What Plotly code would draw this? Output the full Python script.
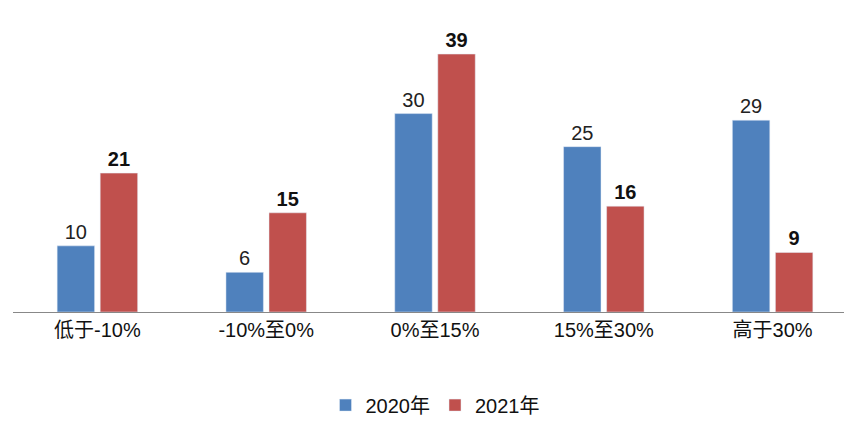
import plotly.graph_objects as go

categories = ['低于-10%', '-10%至0%', '0%至15%', '15%至30%', '高于30%']
values_2020 = [10, 6, 30, 25, 29]
values_2021 = [21, 15, 39, 16, 9]

FONT = 'Liberation Sans, Noto Sans CJK SC, sans-serif'

fig = go.Figure()
fig.add_bar(
    x=categories, y=values_2020, name='2020年',
    marker_color='#4F81BD',
    text=[str(v) for v in values_2020], textposition='outside',
    textfont=dict(size=20, color='#222', family=FONT),
    cliponaxis=False,
)
fig.add_bar(
    x=categories, y=values_2021, name='2021年',
    marker_color='#C0504D',
    text=['<b>%d</b>' % v for v in values_2021], textposition='outside',
    textfont=dict(size=20, color='#111', family=FONT),
    cliponaxis=False,
)

fig.update_layout(
    width=852, height=434,
    margin=dict(l=5, r=3, t=13, b=130),
    paper_bgcolor='white', plot_bgcolor='white',
    font=dict(family=FONT, size=20, color='#111'),
    barmode='group', bargap=0.49, bargroupgap=0.13,
    showlegend=True,
    legend=dict(orientation='h', x=0.5, xanchor='center', y=-0.32, yanchor='middle',
                font=dict(size=20)),
    xaxis=dict(showline=True, linecolor='#888', linewidth=1, ticks='',
               tickfont=dict(size=20)),
    yaxis=dict(visible=False, range=[0, 44]),
)

fig.write_html("out.html")
